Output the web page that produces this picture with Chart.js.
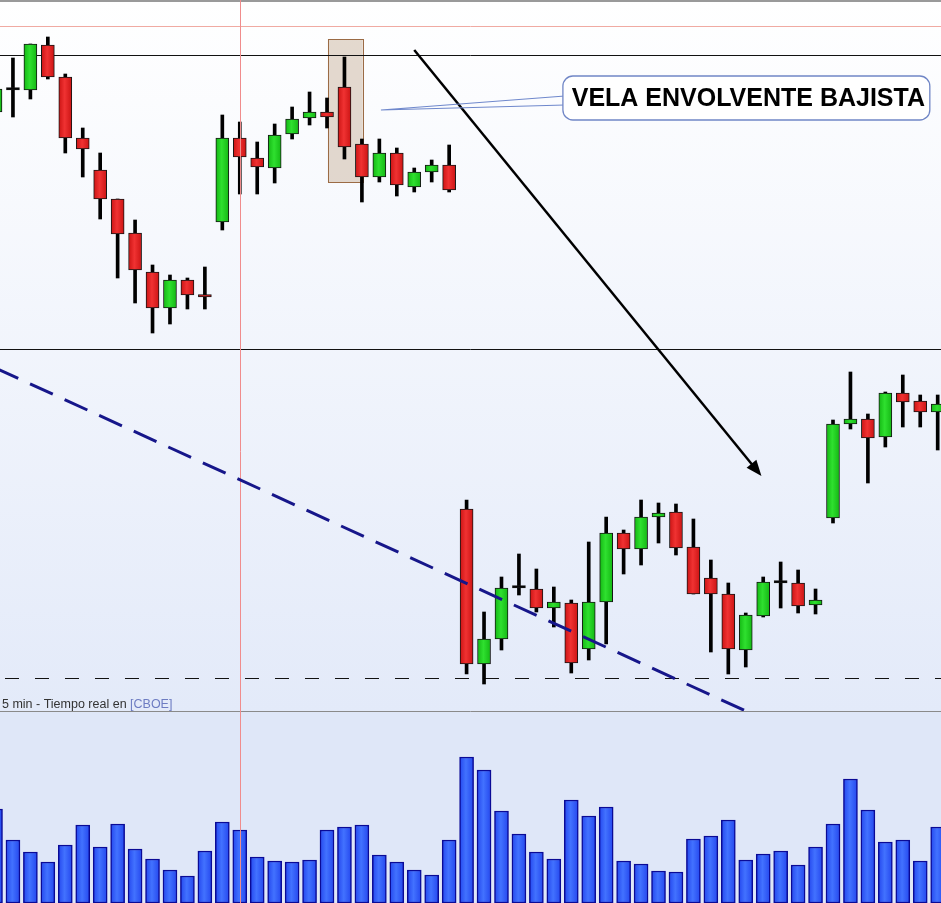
<!DOCTYPE html>
<html>
<head>
<meta charset="utf-8">
<script src="https://cdn.jsdelivr.net/npm/chart.js@4.4.1/dist/chart.umd.min.js"></script>
<style>
  html, body { margin: 0; padding: 0; background: #fff; overflow: hidden; }
  #wrap { width: 941px; height: 903px; }
</style>
</head>
<body>
<div id="wrap"><canvas id="chart" width="941" height="903"></canvas></div>
<script>
// 5 min candles (price, no axis shown in the original)
const open  = [2099.8, 2102.0, 2102.0, 2106.5, 2103.3, 2097.2, 2094.0, 2091.1, 2087.7, 2083.8,
               2080.2, 2083.0, 2081.5, 2088.8, 2097.2, 2095.2, 2094.2, 2097.6, 2099.2, 2099.8,
               2102.3, 2096.6, 2093.3, 2095.7, 2092.3, 2093.8, 2094.5, 2060.1, 2044.6, 2047.1,
               2052.2, 2052.1, 2050.2, 2050.7, 2046.1, 2050.8, 2057.7, 2056.1, 2059.3, 2059.8,
               2056.3, 2053.2, 2051.6, 2046.0, 2049.4, 2052.7, 2052.7, 2050.5, 2059.2, 2068.6,
               2069.1, 2067.3, 2071.7, 2070.9, 2069.8];
const high  = [2102.3, 2105.2, 2106.6, 2107.3, 2103.6, 2098.2, 2095.7, 2091.1, 2089.0, 2084.5,
               2083.5, 2083.2, 2084.3, 2099.5, 2098.8, 2096.8, 2098.6, 2100.3, 2101.8, 2101.2,
               2105.3, 2097.1, 2097.1, 2096.2, 2094.2, 2095.0, 2096.5, 2061.0, 2049.8, 2053.3,
               2055.6, 2054.1, 2052.3, 2051.0, 2056.8, 2059.3, 2058.0, 2061.0, 2060.7, 2060.6,
               2059.1, 2055.0, 2052.7, 2049.7, 2053.3, 2054.8, 2054.0, 2052.1, 2069.0, 2073.8,
               2069.6, 2071.8, 2073.5, 2071.5, 2071.5];
const low   = [2099.6, 2099.3, 2101.1, 2103.1, 2095.7, 2093.3, 2089.1, 2083.2, 2080.7, 2077.7,
               2078.6, 2080.1, 2080.1, 2088.0, 2091.6, 2091.6, 2092.7, 2097.1, 2098.5, 2098.2,
               2095.1, 2090.8, 2092.8, 2091.4, 2091.8, 2092.8, 2091.8, 2043.6, 2042.6, 2046.0,
               2051.5, 2049.8, 2048.3, 2043.7, 2045.0, 2046.6, 2053.6, 2054.5, 2056.7, 2055.5,
               2051.6, 2045.8, 2043.6, 2044.3, 2049.3, 2050.2, 2049.7, 2049.6, 2058.7, 2068.1,
               2062.7, 2066.3, 2068.3, 2068.3, 2066.0];
const close = [2102.1, 2102.0, 2106.6, 2103.3, 2097.2, 2096.1, 2091.1, 2087.6, 2084.0, 2080.2,
               2083.0, 2081.5, 2081.3, 2097.2, 2095.3, 2094.3, 2097.5, 2099.1, 2099.8, 2099.3,
               2096.3, 2093.3, 2095.7, 2092.5, 2093.8, 2094.5, 2092.0, 2044.6, 2047.1, 2052.2,
               2052.2, 2050.2, 2050.8, 2044.7, 2050.8, 2057.7, 2056.1, 2059.3, 2059.7, 2056.2,
               2051.6, 2051.6, 2046.1, 2049.5, 2052.8, 2052.7, 2050.4, 2051.0, 2068.6, 2069.1,
               2067.2, 2071.7, 2070.8, 2069.8, 2070.6];
const volume = [9400, 6300, 5100, 4100, 5800, 7800, 5600, 7900, 5400, 4400,
                3300, 2700, 5200, 8100, 7300, 4600, 4200, 4100, 4300, 7300,
                7600, 7800, 4800, 4100, 3300, 2800, 6300, 14600, 13300, 9200,
                6900, 5100, 4400, 10300, 8700, 9600, 4200, 3900, 3200, 3100,
                6400, 6700, 8300, 4300, 4900, 5200, 3800, 5600, 7900, 12400,
                9300, 6100, 6300, 4200, 7600];

// drawings on the chart, in data units (candle index, price)
const paneSplit = 2039.9;
const markerLevel = 2108.4;
const resistanceLevels = [2105.5, 2076.1];
const supportLevel = 2043.2;
const cursorIndex = 14;
const trendLine = [[0, 2074.2], [43, 2039.9]];
const arrowLine = [[24.0, 2106.0], [43.9, 2063.4]];
const highlightBox = [[19.05, 2107.1], [21.05, 2092.8]];
const calloutBox = [[32.52, 2103.4], [53.55, 2099.0]];
const calloutAnchor = [22.09, 2100.0];
const calloutText = 'VELA ENVOLVENTE BAJISTA';
const paneLabel = '5 min - Tiempo real en ';
const paneSource = '[CBOE]';

const idx = open.map((_, i) => i);

function candleKind(i) {
  if (close[i] > open[i]) return 'up';
  if (close[i] < open[i]) return 'down';
  return 'flat';
}

function barGradient(c, half, edge, mid) {
  const chart = c.chart;
  if (!chart.chartArea || !chart.scales.x) return mid;
  const x = chart.scales.x.getPixelForValue(c.dataIndex);
  const g = chart.ctx.createLinearGradient(x - half, 0, x + half, 0);
  g.addColorStop(0, edge);
  g.addColorStop(0.45, mid);
  g.addColorStop(1, edge);
  return g;
}

function bodyFill(c) {
  const k = candleKind(c.dataIndex);
  if (k === 'up') return barGradient(c, 6.5, '#14b814', '#2fe02f');
  if (k === 'down') return barGradient(c, 6.5, '#cc1414', '#f03232');
  return '#000';
}

const X = (chart, v) => chart.scales.x.getPixelForValue(v);
const Y = (chart, v) => chart.scales.y.getPixelForValue(v);

const drawings = {
  id: 'drawings',
  beforeDraw(chart) {
    const { ctx, width, height } = chart;
    const sep = Math.round(Y(chart, paneSplit));
    ctx.save();
    const g = ctx.createLinearGradient(0, 0, 0, sep);
    g.addColorStop(0, '#ffffff');
    g.addColorStop(1, '#e3eaf9');
    ctx.fillStyle = g;
    ctx.fillRect(0, 0, width, sep);
    ctx.fillStyle = '#dfe7f8';
    ctx.fillRect(0, sep, width, height - sep);
    ctx.restore();
  },
  beforeDatasetsDraw(chart) {
    const { ctx, width } = chart;
    const sep = Math.round(Y(chart, paneSplit)) + 0.5;
    ctx.save();
    // frame top
    ctx.strokeStyle = '#9a9a9a';
    ctx.lineWidth = 2;
    ctx.beginPath(); ctx.moveTo(0, 1); ctx.lineTo(width, 1); ctx.stroke();
    // highlight box around the engulfing candle
    const bx0 = X(chart, highlightBox[0][0]), by0 = Y(chart, highlightBox[0][1]);
    const bx1 = X(chart, highlightBox[1][0]), by1 = Y(chart, highlightBox[1][1]);
    ctx.fillStyle = 'rgba(205, 185, 165, 0.55)';
    ctx.fillRect(bx0, by0, bx1 - bx0, by1 - by0);
    ctx.strokeStyle = '#9b6b45';
    ctx.lineWidth = 1;
    ctx.strokeRect(Math.round(bx0) + 0.5, Math.round(by0) + 0.5, Math.round(bx1 - bx0), Math.round(by1 - by0));
    // marker line (pink)
    let y = Math.round(Y(chart, markerLevel)) + 0.5;
    ctx.strokeStyle = '#f0aaa2';
    ctx.beginPath(); ctx.moveTo(0, y); ctx.lineTo(width, y); ctx.stroke();
    // resistance lines
    ctx.strokeStyle = '#111';
    resistanceLevels.forEach(l => {
      const yy = Math.round(Y(chart, l)) + 0.5;
      ctx.beginPath(); ctx.moveTo(0, yy); ctx.lineTo(width, yy); ctx.stroke();
    });
    // support dashed
    y = Math.round(Y(chart, supportLevel)) + 0.5;
    ctx.setLineDash([14, 16]);
    ctx.lineDashOffset = -5;
    ctx.beginPath(); ctx.moveTo(0, y); ctx.lineTo(width, y); ctx.stroke();
    ctx.setLineDash([]);
    // pane separator
    ctx.strokeStyle = '#8a8a8a';
    ctx.beginPath(); ctx.moveTo(0, sep); ctx.lineTo(width, sep); ctx.stroke();
    ctx.restore();
  },
  afterDatasetsDraw(chart) {
    const { ctx, width, height } = chart;
    const sep = Y(chart, paneSplit);
    ctx.save();
    // cursor line
    const cx = Math.round(X(chart, cursorIndex)) + 0.5;
    ctx.strokeStyle = '#f08c8c';
    ctx.lineWidth = 1;
    ctx.beginPath(); ctx.moveTo(cx, 0); ctx.lineTo(cx, height); ctx.stroke();

    // dashed trend line, clipped to the price pane
    ctx.save();
    ctx.beginPath(); ctx.rect(0, 0, width, sep); ctx.clip();
    ctx.strokeStyle = '#16168a';
    ctx.lineWidth = 3;
    ctx.setLineDash([25, 13]);
    ctx.beginPath();
    ctx.moveTo(X(chart, trendLine[0][0]), Y(chart, trendLine[0][1]));
    ctx.lineTo(X(chart, trendLine[1][0]), Y(chart, trendLine[1][1]));
    ctx.stroke();
    ctx.restore();

    // arrow
    const ax0 = X(chart, arrowLine[0][0]), ay0 = Y(chart, arrowLine[0][1]);
    const ax1 = X(chart, arrowLine[1][0]), ay1 = Y(chart, arrowLine[1][1]);
    const ang = Math.atan2(ay1 - ay0, ax1 - ax0);
    const head = 17;
    ctx.strokeStyle = '#000';
    ctx.fillStyle = '#000';
    ctx.lineWidth = 2.5;
    ctx.beginPath();
    ctx.moveTo(ax0, ay0);
    ctx.lineTo(ax1 - Math.cos(ang) * head * 0.8, ay1 - Math.sin(ang) * head * 0.8);
    ctx.stroke();
    ctx.beginPath();
    ctx.moveTo(ax1, ay1);
    ctx.lineTo(ax1 - head * Math.cos(ang - 0.38), ay1 - head * Math.sin(ang - 0.38));
    ctx.lineTo(ax1 - head * Math.cos(ang + 0.38), ay1 - head * Math.sin(ang + 0.38));
    ctx.closePath();
    ctx.fill();

    // callout
    const lx0 = X(chart, calloutBox[0][0]), ly0 = Y(chart, calloutBox[0][1]);
    const lx1 = X(chart, calloutBox[1][0]), ly1 = Y(chart, calloutBox[1][1]);
    const px = X(chart, calloutAnchor[0]), py = Y(chart, calloutAnchor[1]);
    ctx.strokeStyle = '#6f88cc';
    ctx.lineWidth = 1.2;
    ctx.beginPath();
    ctx.moveTo(px, py); ctx.lineTo(lx0 + 2, ly0 + 20);
    ctx.moveTo(px, py); ctx.lineTo(lx0 + 2, ly0 + 29);
    ctx.stroke();
    const r = 10;
    ctx.beginPath();
    ctx.moveTo(lx0 + r, ly0);
    ctx.lineTo(lx1 - r, ly0);
    ctx.arcTo(lx1, ly0, lx1, ly0 + r, r);
    ctx.lineTo(lx1, ly1 - r);
    ctx.arcTo(lx1, ly1, lx1 - r, ly1, r);
    ctx.lineTo(lx0 + r, ly1);
    ctx.arcTo(lx0, ly1, lx0, ly1 - r, r);
    ctx.lineTo(lx0, ly0 + r);
    ctx.arcTo(lx0, ly0, lx0 + r, ly0, r);
    ctx.closePath();
    ctx.fillStyle = '#ffffff';
    ctx.fill();
    ctx.strokeStyle = '#7086c6';
    ctx.lineWidth = 1.3;
    ctx.stroke();
    ctx.fillStyle = '#000';
    ctx.font = 'bold 25px "Liberation Sans", Arial, sans-serif';
    ctx.textAlign = 'center';
    ctx.textBaseline = 'alphabetic';
    ctx.fillText(calloutText, (lx0 + lx1) / 2 + 2, ly0 + 30);

    // pane label
    ctx.textAlign = 'left';
    ctx.font = '12.5px "Liberation Sans", Arial, sans-serif';
    ctx.fillStyle = '#333';
    ctx.fillText(paneLabel, 2, sep - 3);
    const w = ctx.measureText(paneLabel).width;
    ctx.fillStyle = '#6d7cc2';
    ctx.fillText(paneSource, 2 + w, sep - 3);
    ctx.restore();
  }
};

new Chart(document.getElementById('chart'), {
  type: 'bar',
  data: {
    datasets: [
      {
        label: 'body',
        data: idx.map(i => ({ x: i, y: [open[i], close[i]] })),
        yAxisID: 'y',
        backgroundColor: bodyFill,
        borderColor: '#151515',
        borderWidth: 1,
        borderSkipped: false,
        minBarLength: 2.5,
        barThickness: 13,
        grouped: false,
        order: 0
      },
      {
        label: 'wick',
        data: idx.map(i => ({ x: i, y: [low[i], high[i]] })),
        yAxisID: 'y',
        backgroundColor: '#000',
        borderWidth: 0,
        barThickness: 3,
        grouped: false,
        order: 1
      },
      {
        label: 'volume',
        data: idx.map(i => ({ x: i, y: volume[i] })),
        yAxisID: 'v',
        backgroundColor: c => barGradient(c, 7, '#2447ee', '#4272ff'),
        borderColor: '#0a0a96',
        borderWidth: 1.5,
        borderSkipped: false,
        barThickness: 14,
        grouped: false,
        order: 2
      }
    ]
  },
  options: {
    responsive: false,
    animation: false,
    devicePixelRatio: 1,
    layout: { padding: 0 },
    plugins: { legend: { display: false }, tooltip: { enabled: false } },
    scales: {
      x: { type: 'linear', min: 0.258, max: 54.19, offset: false, display: false },
      y: { type: 'linear', min: 2020.7, max: 2111, display: false },
      v: { type: 'linear', min: 0, max: 90300, display: false }
    }
  },
  plugins: [drawings]
});
</script>
</body>
</html>
